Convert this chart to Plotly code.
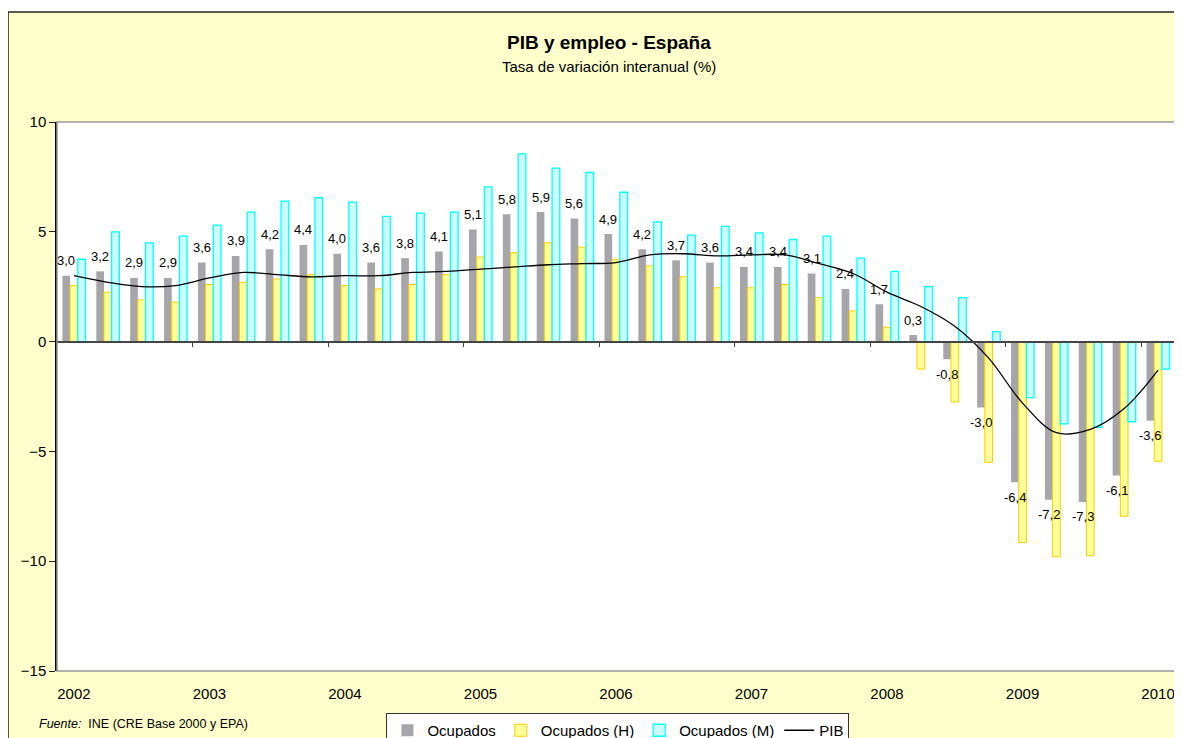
import plotly.graph_objects as go

# trimestres 2002T1 - 2010T1
periodos = ["2002T1", "2002T2", "2002T3", "2002T4", "2003T1", "2003T2", "2003T3", "2003T4",
            "2004T1", "2004T2", "2004T3", "2004T4", "2005T1", "2005T2", "2005T3", "2005T4",
            "2006T1", "2006T2", "2006T3", "2006T4", "2007T1", "2007T2", "2007T3", "2007T4",
            "2008T1", "2008T2", "2008T3", "2008T4", "2009T1", "2009T2", "2009T3", "2009T4",
            "2010T1"]
anios = ["2002", "2003", "2004", "2005", "2006", "2007", "2008", "2009", "2010"]

ocupados = [3.0, 3.2, 2.9, 2.9, 3.6, 3.9, 4.2, 4.4, 4.0, 3.6, 3.8, 4.1, 5.1, 5.8, 5.9, 5.6,
            4.9, 4.2, 3.7, 3.6, 3.4, 3.4, 3.1, 2.4, 1.7, 0.3, -0.8, -3.0, -6.4, -7.2, -7.3, -6.1,
            -3.6]
ocupados_h = [2.55, 2.25, 1.9, 1.8, 2.6, 2.7, 2.85, 3.05, 2.55, 2.4, 2.6, 3.05, 3.85, 4.05, 4.5, 4.3,
              3.75, 3.45, 2.95, 2.45, 2.45, 2.6, 2.0, 1.4, 0.65, -1.25, -2.75, -5.5, -9.15, -9.8, -9.75, -7.95,
              -5.45]
ocupados_m = [3.75, 5.0, 4.5, 4.8, 5.3, 5.9, 6.4, 6.55, 6.35, 5.7, 5.85, 5.9, 7.05, 8.55, 7.9, 7.7,
              6.8, 5.45, 4.85, 5.25, 4.95, 4.65, 4.8, 3.8, 3.2, 2.5, 2.0, 0.45, -2.55, -3.75, -3.9, -3.65,
              -1.25]
pib = [3.0, 2.7, 2.5, 2.55, 2.9, 3.15, 3.05, 2.95, 3.0, 3.0, 3.15, 3.2, 3.3, 3.4, 3.5, 3.55,
       3.6, 3.95, 4.0, 3.9, 3.95, 3.95, 3.55, 3.1, 2.25, 1.6, 0.7, -0.75, -2.8, -4.15, -4.0, -3.05,
       -1.3]

FONT = "Liberation Sans, Arial, sans-serif"
x = list(range(len(periodos)))
bargap = 0.32
bw = (1 - bargap) / 3

fig = go.Figure()
fig.add_trace(go.Bar(x=x, y=ocupados, name="Ocupados", marker=dict(color="#A6A6AA", line=dict(width=0))))
fig.add_trace(go.Bar(x=x, y=ocupados_h, name="Ocupados (H)",
                     marker=dict(color="#FFFF99", line=dict(color="#FFCC00", width=1))))
fig.add_trace(go.Bar(x=x, y=ocupados_m, name="Ocupados (M)",
                     marker=dict(color="#CCFFFF", line=dict(color="#00FFFF", width=1.3))))
fig.add_trace(go.Scatter(x=x, y=pib, name="PIB", mode="lines", xaxis="x2",
                         line=dict(color="black", width=1.3, shape="spline", smoothing=1.0)))

# etiquetas de ocupados
for i, v in enumerate(ocupados):
    fig.add_annotation(x=i - bw, y=v, text=f"{v:.1f}".replace(".", ","), showarrow=False,
                       yanchor="middle", yshift=15 if v >= 0 else -15,
                       font=dict(family=FONT, size=13, color="black"))

# margen blanco fuera del marco del gráfico y borde del marco
fig.add_shape(type="rect", xref="paper", yref="paper", x0=-0.2, x1=1.1, y0=1.2004, y1=1.5,
              fillcolor="white", line=dict(width=0), layer="below")
fig.add_shape(type="rect", xref="paper", yref="paper", x0=-0.2, x1=-0.0438, y0=-0.5, y1=1.5,
              fillcolor="white", line=dict(width=0), layer="below")
fig.add_shape(type="line", xref="paper", yref="paper", x0=-0.0438, x1=1.1, y0=1.2004, y1=1.2004,
              line=dict(color="#222222", width=1.5))
fig.add_shape(type="line", xref="paper", yref="paper", x0=-0.0438, x1=-0.0438, y0=-0.5, y1=1.2004,
              line=dict(color="#222222", width=1.5))
fig.add_shape(type="rect", xref="paper", yref="paper", x0=0, x1=1, y0=0, y1=1,
              line=dict(color="#999999", width=1.5), layer="above")

fig.add_annotation(xref="paper", yref="paper", x=0.4937, y=1.144, yanchor="middle",
                   text="<b>PIB y empleo - España</b>",
                   showarrow=False, font=dict(family=FONT, size=19, color="black"))
fig.add_annotation(xref="paper", yref="paper", x=0.4937, y=1.102, yanchor="middle",
                   text="Tasa de variación interanual (%)",
                   showarrow=False, font=dict(family=FONT, size=15, color="black"))
fig.add_annotation(xref="paper", yref="paper", x=-0.0179, y=-0.0965, xanchor="left", yanchor="middle",
                   text="<i>Fuente:</i>  INE (CRE Base 2000 y EPA)", showarrow=False,
                   font=dict(family=FONT, size=12.5, color="black"))

fig.update_layout(
    width=1182, height=738,
    margin=dict(l=49, r=15, t=114, b=75),
    paper_bgcolor="#FFFFCC", plot_bgcolor="white",
    barmode="group", bargap=bargap, bargroupgap=0,
    font=dict(family=FONT, size=15, color="black"),
    xaxis=dict(range=[-0.5, len(x) - 0.5], tickvals=list(range(0, len(x), 4)), ticktext=anios,
               ticks="outside", ticklen=9, tickcolor="rgba(0,0,0,0)", showgrid=False, zeroline=False,
               showline=False, tickfont=dict(size=15)),
    xaxis2=dict(range=[-0.5, len(x) - 0.5], overlaying="x", anchor="free", position=0.6,
                tickvals=[i + 3.5 for i in range(0, len(x) - 4, 4)], showticklabels=False,
                ticks="outside", ticklen=5, tickcolor="#444444", showline=True, linecolor="#444444",
                linewidth=1.5, showgrid=False, zeroline=False),
    yaxis=dict(range=[-15, 10], dtick=5, ticks="outside", ticklen=6, tickcolor="#222222",
               showline=True, linecolor="black", linewidth=1.5, showgrid=False, zeroline=False,
               tickfont=dict(size=15)),
    legend=dict(orientation="h", xref="container", yref="container", x=0.516, xanchor="center",
                y=0.0447, yanchor="top",
                bgcolor="white", bordercolor="#333333", borderwidth=1,
                font=dict(family=FONT, size=15), traceorder="normal", itemwidth=30),
    showlegend=True,
)

fig.write_html("out.html")
